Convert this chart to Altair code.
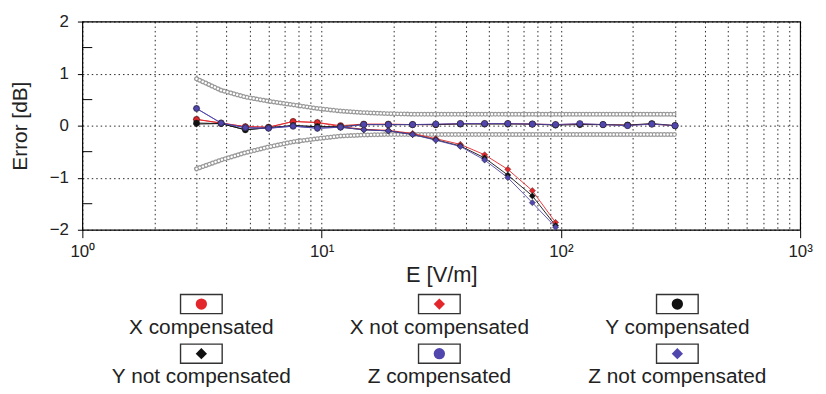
import altair as alt
import pandas as pd

# ---- data ----
E_comp = [3, 3.8, 4.8, 6, 7.6, 9.6, 12, 15, 19, 24, 30, 38, 48, 60, 76, 95, 120, 150, 190, 240, 300]
E_nc = [3, 3.8, 4.8, 6, 7.6, 9.6, 12, 15, 19, 24, 30, 38, 48, 60, 76, 95]

x_comp = [0.12, 0.05, -0.02, -0.03, 0.08, 0.06, 0.0, 0.03, 0.03, 0.02, 0.02, 0.04, 0.04, 0.04, 0.03, 0.02, 0.03, 0.02, 0.01, 0.03, 0.0]
y_comp = [0.05, 0.04, -0.08, -0.04, 0.0, -0.02, -0.02, 0.02, 0.02, 0.02, 0.02, 0.03, 0.03, 0.03, 0.03, 0.01, 0.02, 0.02, 0.01, 0.04, 0.0]
z_comp = [0.33, 0.05, -0.04, -0.05, -0.01, -0.05, -0.03, 0.02, 0.02, 0.02, 0.03, 0.04, 0.04, 0.04, 0.03, 0.02, 0.04, 0.02, 0.0, 0.03, 0.0]

x_nc = [0.12, 0.05, -0.02, -0.03, 0.08, 0.06, -0.02, -0.07, -0.09, -0.15, -0.25, -0.36, -0.56, -0.84, -1.25, -1.86]
y_nc = [0.03, 0.04, -0.08, -0.04, 0.0, -0.02, -0.03, -0.08, -0.10, -0.17, -0.27, -0.39, -0.62, -0.95, -1.35, -1.92]
z_nc = [0.33, 0.05, -0.04, -0.05, -0.01, -0.05, -0.03, -0.08, -0.10, -0.17, -0.28, -0.40, -0.66, -1.00, -1.48, -1.95]

band_E = [3, 3.8, 4.8, 6, 7.6, 9.6, 12, 15, 19, 24, 30, 38, 48, 60, 76, 95, 120, 150, 190, 240, 300]
band_upper = [0.90, 0.68, 0.55, 0.47, 0.40, 0.33, 0.28, 0.25, 0.23, 0.22, 0.22, 0.22, 0.22, 0.22, 0.22, 0.22, 0.22, 0.22, 0.22, 0.22, 0.22]
band_lower = [-0.83, -0.66, -0.52, -0.41, -0.31, -0.25, -0.20, -0.18, -0.17, -0.17, -0.17, -0.17, -0.17, -0.17, -0.17, -0.17, -0.17, -0.17, -0.17, -0.17, -0.17]

series = ["X compensated", "X not compensated", "Y compensated",
          "Y not compensated", "Z compensated", "Z not compensated"]
colors = ["#e3262b", "#e3262b", "#111111", "#111111", "#5046ad", "#5046ad"]
shapes = ["circle", "diamond", "circle", "diamond", "circle", "diamond"]
leg_col = [0, 1, 2, 0, 1, 2]
leg_row = [0, 0, 0, 1, 1, 1]

grid_vals = [1, 2, 3, 4, 5, 6, 7, 8, 9, 10, 20, 30, 40, 50, 60, 70, 80, 90,
             100, 200, 300, 400, 500, 600, 700, 800, 900, 1000]
y_major = [-2, -1, 0, 1, 2]
y_minor = [-1.5, -0.5, 0.5, 1.5]

# ---- tables ----
rows = []
for name, xs_, ys_ in [(series[0], E_comp, x_comp), (series[1], E_nc, x_nc),
                       (series[2], E_comp, y_comp), (series[3], E_nc, y_nc),
                       (series[4], E_comp, z_comp), (series[5], E_nc, z_nc)]:
    for e, v in zip(xs_, ys_):
        rows.append({"series": name, "E": e, "err": v})
df = pd.DataFrame(rows)

band = pd.DataFrame(
    [{"side": "upper", "E": e, "err": v} for e, v in zip(band_E, band_upper)]
    + [{"side": "lower", "E": e, "err": v} for e, v in zip(band_E, band_lower)]
)
minor = pd.DataFrame({"err": y_minor, "E": [1] * len(y_minor), "E2": [1.1] * len(y_minor)})

color_scale = alt.Scale(domain=series, range=colors)
shape_scale = alt.Scale(domain=series, range=shapes)

label_expr = ("datum.value == 1 ? '10⁰' : datum.value == 10 ? '10¹' : "
              "datum.value == 100 ? '10²' : datum.value == 1000 ? '10³' : ''")
decade_test = "datum.value == 1 || datum.value == 10 || datum.value == 100 || datum.value == 1000"

xs = alt.Scale(type="log", domain=[1, 1000])
ys = alt.Scale(domain=[-2, 2])

X = alt.X("E:Q", scale=xs,
          axis=alt.Axis(values=grid_vals, labelExpr=label_expr, labelOverlap=False,
                        labelFlush=False,
                        grid=True, gridDash=[1.5, 3], gridColor="#000", gridOpacity=0.85,
                        ticks=True, tickSize=8, tickColor="#000",
                        tickOpacity={"condition": {"test": decade_test, "value": 1}, "value": 0},
                        domain=False, title="E [V/m]", labelPadding=6,
                        labelFontSize=17, titleFontSize=22, titleFontWeight="normal",
                        labelColor="#222", titleColor="#222", titlePadding=5))
Y = alt.Y("err:Q", scale=ys,
          axis=alt.Axis(values=y_major, grid=True, gridDash=[1.5, 3],
                        gridColor="#000", gridOpacity=0.85, ticks=True, tickSize=5,
                        tickColor="#000", domain=False,
                        title="Error [dB]", labelFontSize=17, titleFontSize=21,
                        titleFontWeight="normal", labelColor="#222", titleColor="#222",
                        labelPadding=9, titlePadding=19))

band_base = alt.Chart(band).encode(x=X, y=Y, detail="side:N")
band_outer = band_base.mark_line(color="#9a9a9a", strokeWidth=5, strokeDash=[0.1, 3.3],
                                 strokeCap="round")
band_inner = band_base.mark_line(color="#ffffff", strokeWidth=2.4, strokeDash=[0.1, 3.3],
                                 strokeCap="round")

minor_ticks = alt.Chart(minor).mark_rule(color="#000", strokeWidth=1).encode(
    x=X, x2="E2:Q", y=Y)

lines = alt.Chart(df).mark_line(strokeWidth=1, opacity=0.9).encode(
    x=X, y=Y,
    color=alt.Color("series:N", scale=color_scale, legend=None),
    detail="series:N",
)
points = alt.Chart(df).mark_point(filled=True, size=40, opacity=1,
                                  stroke="#222", strokeWidth=0.4).encode(
    x=X, y=Y,
    color=alt.Color("series:N", scale=color_scale, legend=None),
    shape=alt.Shape("series:N", scale=shape_scale, legend=None),
)

main = alt.layer(band_outer, band_inner, minor_ticks, lines, points).properties(width=724, height=210)

# ---- custom legend ----
leg = pd.DataFrame({"series": series, "col": leg_col, "row": leg_row})
LX = alt.X("col:Q", scale=alt.Scale(domain=[-0.5, 2.516]), axis=None)
LY = alt.Y("row:Q", scale=alt.Scale(domain=[-0.26, 1.74], reverse=True), axis=None)

boxes = alt.Chart(leg).mark_point(shape="M-1,-0.46H1V0.46H-1Z", size=1764,
                                  filled=True, fill="#ffffff", stroke="#333333",
                                  strokeWidth=1.4, opacity=1).encode(x=LX, y=LY)
syms = alt.Chart(leg).mark_point(filled=True, size=130, opacity=1).encode(
    x=LX, y=LY,
    color=alt.Color("series:N", scale=color_scale, legend=None),
    shape=alt.Shape("series:N", scale=shape_scale, legend=None),
)
texts = alt.Chart(leg).mark_text(dy=24, fontSize=21, color="#222").encode(
    x=LX, y=LY, text="series:N")

legend = alt.layer(boxes, syms, texts, view=alt.ViewBackground(stroke=None)).properties(
    width=724, height=100)

chart = alt.vconcat(main, legend, spacing=5).configure(
    font="Liberation Sans"
).configure_view(stroke="#000", strokeWidth=1.2).properties(
    padding={"left": 1, "right": 5, "top": 2, "bottom": 0})

chart.save("out.html", embed_options={"renderer": "svg", "actions": False})
